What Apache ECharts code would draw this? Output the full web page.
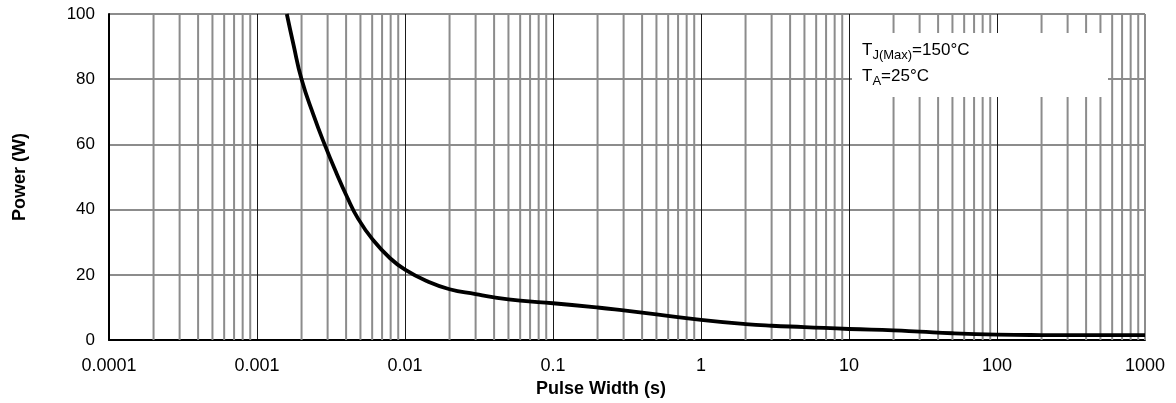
<!DOCTYPE html>
<html>
<head>
<meta charset="utf-8">
<script src="https://cdn.jsdelivr.net/npm/echarts@6/dist/echarts.min.js"></script>
<style>
html,body{margin:0;padding:0;background:#fff;}
#chart{width:1176px;height:403px;}
</style>
</head>
<body>
<div id="chart"></div>
<script>
// ---- data ----
const pulseWidth = [0.00159, 0.00176, 0.002, 0.0024, 0.00288, 0.00345, 0.00404, 0.00484, 0.00611, 0.00793, 0.01, 0.014, 0.02, 0.03, 0.04, 0.06, 0.1, 0.2, 0.3, 0.5, 1, 2, 3, 5, 10, 20, 30, 50, 100, 200, 500, 1000];
const powerW = [100, 90.8, 80, 69.2, 59.7, 51.1, 44.1, 37.1, 30.6, 25.1, 21.6, 18.1, 15.6, 14.1, 13.1, 12.1, 11.3, 10, 9.1, 7.9, 6.2, 4.9, 4.4, 4.0, 3.4, 3.0, 2.6, 2.1, 1.7, 1.55, 1.5, 1.5];
const xTickLabels = ['0.0001', '0.001', '0.01', '0.1', '1', '10', '100', '1000'];
const yTicks = [0, 20, 40, 60, 80, 100];
const decades = [0.0001, 0.001, 0.01, 0.1, 1, 10, 100];
const minorMultipliers = [2, 3, 4, 5, 6, 7, 8, 9];
const xTitle = 'Pulse Width (s)';
const yTitle = 'Power (W)';

const FONT = 'Liberation Sans, Arial, Helvetica, sans-serif';

const curve = pulseWidth.map((x, i) => [x, powerW[i]]);
const minorLines = [];
decades.forEach(d => minorMultipliers.forEach(m => minorLines.push([+(d * m).toPrecision(6), 0])));
minorLines.push([1000, 0]);

function measure(text, font) {
  const c = document.createElement('canvas').getContext('2d');
  c.font = font;
  return c.measureText(text).width;
}

const chart = echarts.init(document.getElementById('chart'), null, { renderer: 'canvas' });

// annotation box
const bigFont = 17, subFont = 13;
const bigF = bigFont + 'px ' + FONT, subF = subFont + 'px ' + FONT;
const tx = 862;
function annot(parts, yc) {
  const els = [];
  let x = tx;
  parts.forEach(p => {
    const f = p.sub ? subF : bigF;
    els.push({
      type: 'text', z: 101, left: x, top: yc - (p.sub ? subFont / 2 - 5 : bigFont / 2),
      style: { text: p.t, font: f, fill: '#000' }
    });
    x += measure(p.t, f);
  });
  return els;
}
const graphics = [
  { type: 'rect', z: 100, left: 852, top: 33, shape: { width: 256, height: 64 }, style: { fill: '#fff' } }
].concat(
  annot([{ t: 'T' }, { t: 'J(Max)', sub: true }, { t: '=150°C' }], 50.5),
  annot([{ t: 'T' }, { t: 'A', sub: true }, { t: '=25°C' }], 76)
);

chart.setOption({
  animation: false,
  backgroundColor: '#fff',
  grid: { left: 109, right: 31, top: 14, bottom: 56, containLabel: false },
  xAxis: {
    type: 'log', logBase: 10, min: 0.0001, max: 1000,
    name: xTitle, nameLocation: 'middle', nameGap: 34,
    nameTextStyle: { fontFamily: FONT, fontSize: 18, fontWeight: 'bold', color: '#000', padding: [0, 52, 0, 0] },
    axisLine: { show: true, onZero: false, lineStyle: { color: '#000', width: 2 } },
    axisTick: { show: false },
    axisLabel: {
      fontFamily: FONT, fontSize: 18, color: '#000', margin: 17,
      formatter: v => xTickLabels[Math.round(Math.log10(v)) + 4]
    },
    splitLine: { show: true, showMinLine: false, showMaxLine: false, lineStyle: { color: '#1a1a1a', width: 1 } },
    minorTick: { show: false }, minorSplitLine: { show: false }
  },
  yAxis: {
    type: 'value', min: 0, max: 100, interval: 20,
    name: yTitle, nameLocation: 'middle', nameGap: 80,
    nameTextStyle: { fontFamily: FONT, fontSize: 18, fontWeight: 'bold', color: '#000' },
    axisLine: { show: true, lineStyle: { color: '#000', width: 2 } },
    axisTick: { show: false },
    axisLabel: { fontFamily: FONT, fontSize: 17, color: '#000', margin: 14,
      formatter: v => (yTicks.indexOf(v) >= 0 ? String(v) : '') },
    splitLine: { show: true, showMinLine: false, lineStyle: { color: '#8c8c8c', width: 2 } }
  },
  series: [{
    type: 'custom', z: 1, silent: true, data: minorLines,
    encode: { x: 0, y: 1 },
    renderItem: function (params, api) {
      const xv = api.value(0);
      const p0 = api.coord([xv, 0]);
      const p1 = api.coord([xv, 100]);
      return { type: 'line', shape: { x1: p0[0], y1: p0[1], x2: p1[0], y2: p1[1] },
        style: { stroke: '#8c8c8c', lineWidth: 2 } };
    }
  }, {
    type: 'line', data: curve, smooth: 0.5, showSymbol: false, symbol: 'none', z: 10,
    lineStyle: { color: '#000', width: 3.8 }, clip: true
  }],
  graphic: graphics
});
</script>
</body>
</html>
